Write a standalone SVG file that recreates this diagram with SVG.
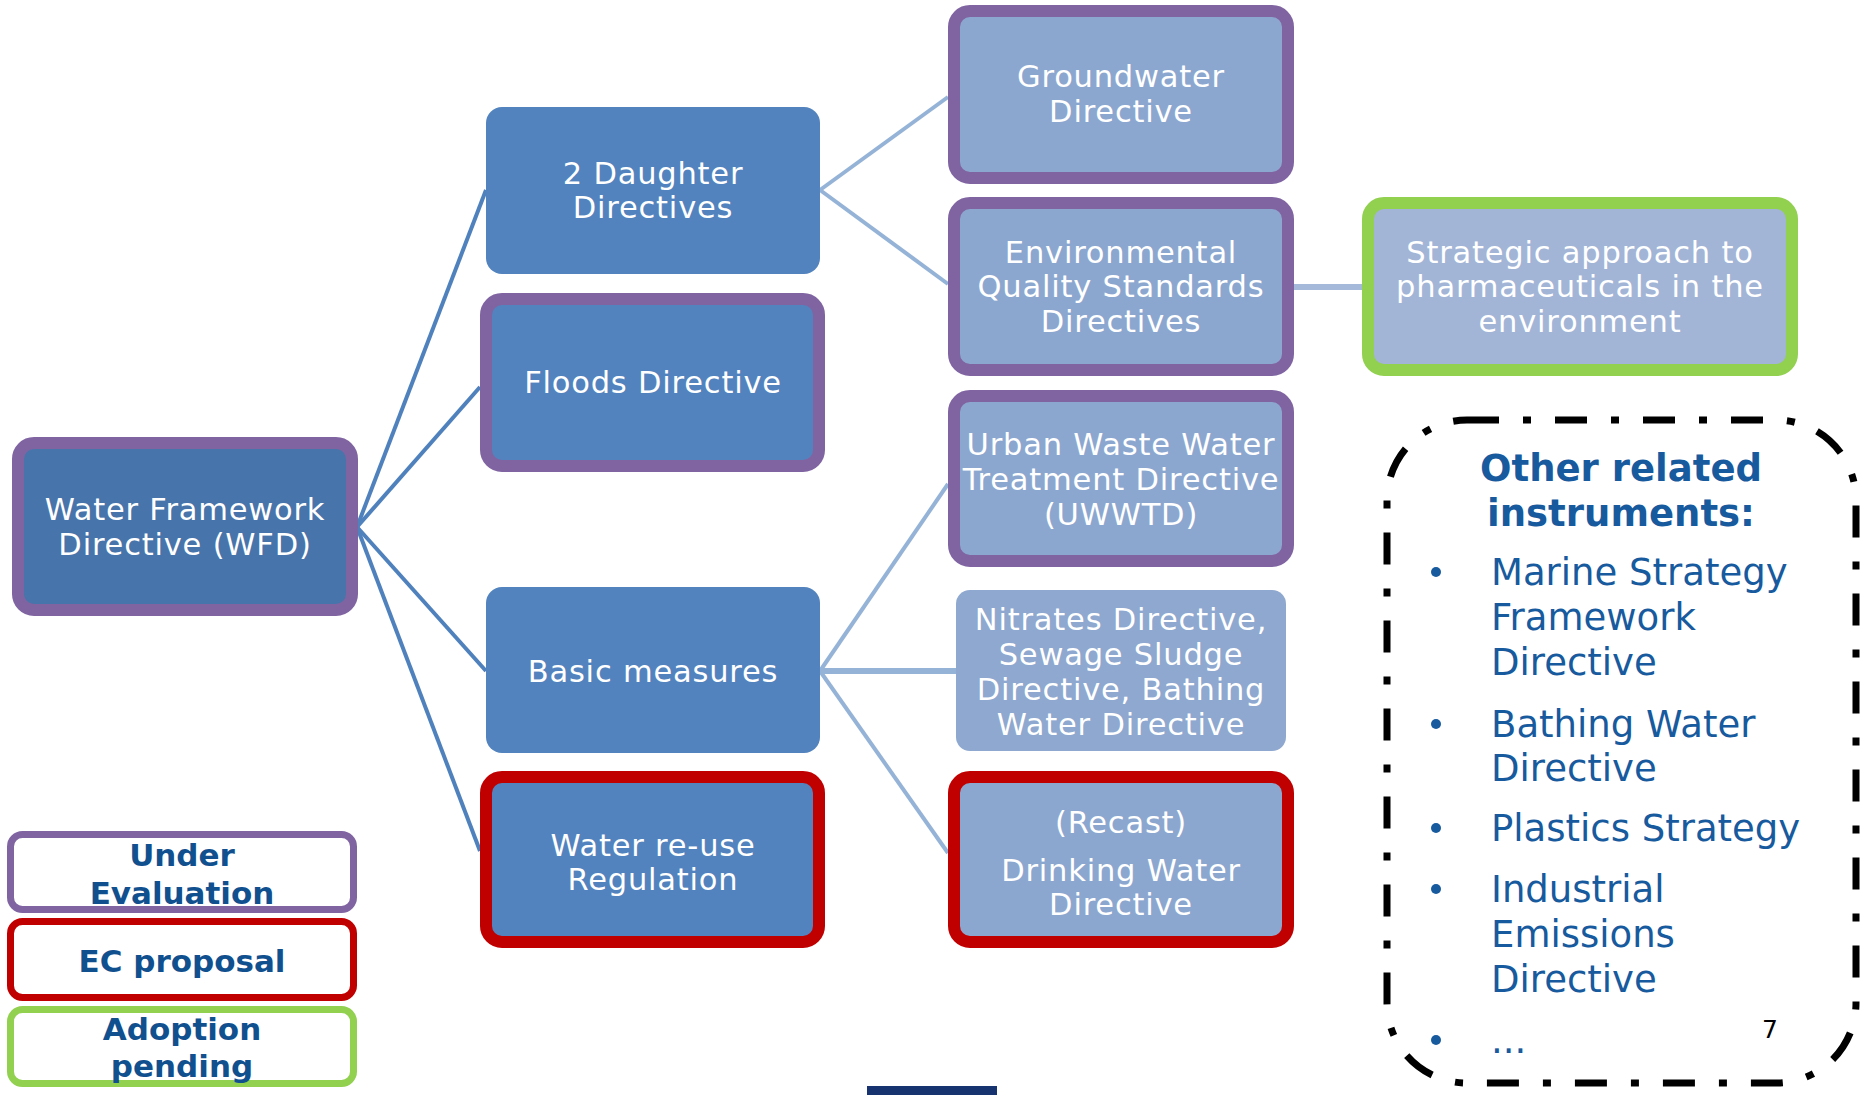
<svg xmlns="http://www.w3.org/2000/svg" width="1865" height="1095" viewBox="0 0 1865 1095">
<style>
.nt{font-family:"DejaVu Sans","Verdana",sans-serif;font-size:30.5px;fill:#fff;text-anchor:middle;letter-spacing:0.8px}
.lg{font-family:"DejaVu Sans","Verdana",sans-serif;font-size:31px;font-weight:bold;fill:#11508F;text-anchor:middle}
.bt{font-family:"DejaVu Sans","Verdana",sans-serif;font-size:37px;fill:#175A9E}
.hd{font-family:"DejaVu Sans","Verdana",sans-serif;font-size:37px;font-weight:bold;fill:#175A9E;text-anchor:middle}
.dk{stroke:#4F81BD;stroke-width:4;fill:none}
.lt{stroke:#95B3D7;stroke-width:4;fill:none}
.pu{stroke:#8064A2;stroke-width:12}
.rd{stroke:#C00000;stroke-width:12}
.gr{stroke:#92D050;stroke-width:12}
.mid{fill:#5283BE}
.pale{fill:#8CA7CF}
</style>
<g id="connectors">
<line class="dk" x1="357" y1="527" x2="486" y2="190"/>
<line class="dk" x1="357" y1="527" x2="480" y2="387"/>
<line class="dk" x1="357" y1="527" x2="486" y2="671"/>
<line class="dk" x1="357" y1="527" x2="480" y2="851"/>
<line class="lt" x1="820" y1="190" x2="948" y2="97"/>
<line class="lt" x1="820" y1="190" x2="948" y2="284"/>
<line class="lt" x1="820" y1="671" x2="948" y2="484"/>
<line class="lt" x1="820" y1="671" x2="956" y2="671" style="stroke-width:6"/>
<line class="lt" x1="820" y1="671" x2="948" y2="853"/>
<line class="lt" x1="1294" y1="287" x2="1362" y2="287" style="stroke-width:6;stroke:#A5B9DA"/>
</g>
<g id="wfd">
<rect x="18" y="443" width="334" height="167" rx="16" fill="#4774AA" class="pu"/>
<text class="nt" x="185" y="520">Water Framework</text>
<text class="nt" x="185" y="555">Directive (WFD)</text>
</g>
<g id="daughter">
<rect x="486" y="107" width="334" height="167" rx="16" class="mid"/>
<text class="nt" x="653" y="184">2 Daughter</text>
<text class="nt" x="653" y="218">Directives</text>
</g>
<g id="floods">
<rect x="486" y="299" width="333" height="167" rx="16" class="mid pu"/>
<text class="nt" x="653" y="393">Floods Directive</text>
</g>
<g id="basic">
<rect x="486" y="587" width="334" height="166" rx="16" class="mid"/>
<text class="nt" x="653" y="682">Basic measures</text>
</g>
<g id="reuse">
<rect x="486" y="777" width="333" height="165" rx="16" class="mid rd"/>
<text class="nt" x="653" y="856">Water re-use</text>
<text class="nt" x="653" y="890">Regulation</text>
</g>
<g id="groundwater">
<rect x="954" y="11" width="334" height="167" rx="16" class="pale pu"/>
<text class="nt" x="1121" y="87">Groundwater</text>
<text class="nt" x="1121" y="122">Directive</text>
</g>
<g id="eqs">
<rect x="954" y="203" width="334" height="167" rx="16" class="pale pu"/>
<text class="nt" x="1121" y="263">Environmental</text>
<text class="nt" x="1121" y="297">Quality Standards</text>
<text class="nt" x="1121" y="332">Directives</text>
</g>
<g id="uwwtd">
<rect x="954" y="396" width="334" height="165" rx="16" class="pale pu"/>
<text class="nt" x="1121" y="455">Urban Waste Water</text>
<text class="nt" x="1121" y="490">Treatment Directive</text>
<text class="nt" x="1121" y="525">(UWWTD)</text>
</g>
<g id="nitrates">
<rect x="956" y="590" width="330" height="161" rx="14" fill="#8EA8CF"/>
<text class="nt" x="1121" y="630">Nitrates Directive,</text>
<text class="nt" x="1121" y="665">Sewage Sludge</text>
<text class="nt" x="1121" y="700">Directive, Bathing</text>
<text class="nt" x="1121" y="735">Water Directive</text>
</g>
<g id="drinking">
<rect x="954" y="777" width="334" height="165" rx="16" class="pale rd"/>
<text class="nt" x="1121" y="833">(Recast)</text>
<text class="nt" x="1121" y="881">Drinking Water</text>
<text class="nt" x="1121" y="915">Directive</text>
</g>
<g id="strategic">
<rect x="1368" y="203" width="424" height="167" rx="16" fill="#A2B5D7" class="gr"/>
<text class="nt" x="1580" y="263">Strategic approach to</text>
<text class="nt" x="1580" y="297">pharmaceuticals in the</text>
<text class="nt" x="1580" y="332">environment</text>
</g>
<g id="legend-under">
<rect x="10.5" y="834.5" width="343" height="75" rx="12" fill="#fff" stroke="#8064A2" stroke-width="7"/>
<text class="lg" x="182" y="866">Under</text>
<text class="lg" x="182" y="904">Evaluation</text>
</g>
<g id="legend-ec">
<rect x="10.5" y="921.5" width="343" height="76" rx="12" fill="#fff" stroke="#C00000" stroke-width="7"/>
<text class="lg" x="182" y="972">EC proposal</text>
</g>
<g id="legend-adoption">
<rect x="10.5" y="1009.5" width="343" height="74" rx="12" fill="#fff" stroke="#92D050" stroke-width="7"/>
<text class="lg" x="182" y="1040">Adoption</text>
<text class="lg" x="182" y="1077">pending</text>
</g>
<g id="other">
<rect x="1387" y="420" width="469" height="663" rx="80" fill="none" stroke="#000" stroke-width="7" stroke-dasharray="32 24 8 24"/>
<text class="hd" x="1621" y="481">Other related</text>
<text class="hd" x="1621" y="526">instruments:</text>
<g fill="#175A9E">
<circle cx="1436" cy="572" r="5"/>
<circle cx="1436" cy="724" r="5"/>
<circle cx="1436" cy="828" r="5"/>
<circle cx="1436" cy="889" r="5"/>
<circle cx="1436" cy="1040" r="5"/>
</g>
<text class="bt" x="1491" y="585">Marine Strategy</text>
<text class="bt" x="1491" y="630">Framework</text>
<text class="bt" x="1491" y="675">Directive</text>
<text class="bt" x="1491" y="737">Bathing Water</text>
<text class="bt" x="1491" y="781">Directive</text>
<text class="bt" x="1491" y="841">Plastics Strategy</text>
<text class="bt" x="1491" y="902">Industrial</text>
<text class="bt" x="1491" y="947">Emissions</text>
<text class="bt" x="1491" y="992">Directive</text>
<text class="bt" x="1491" y="1053">...</text>
<text x="1770" y="1038" font-family="DejaVu Sans, sans-serif" font-size="25" fill="#000" text-anchor="middle">7</text>
</g>
<rect x="867" y="1086" width="130" height="9" fill="#17336F"/>
</svg>
